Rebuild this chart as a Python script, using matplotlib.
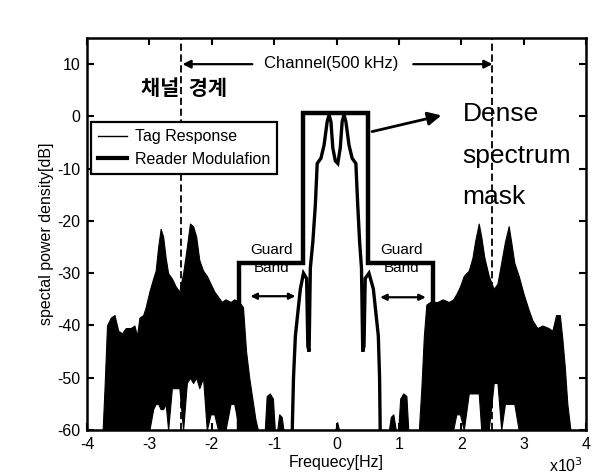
import matplotlib
matplotlib.use("Agg")
import matplotlib.pyplot as plt
from matplotlib.lines import Line2D

plt.rcParams["font.family"] = ["Liberation Sans", "DejaVu Sans"]
plt.rcParams["axes.unicode_minus"] = False

# =====================================================
# DATA  (frequency in units of 10^3 Hz, level in dB)
# =====================================================
# tag response, lower band: top / bottom envelope of the dense trace
tag_left_f = [-3.75, -3.72, -3.68, -3.62, -3.56, -3.50, -3.44, -3.38, -3.30,
              -3.24, -3.20, -3.16, -3.10, -3.06, -3.00, -2.94, -2.90, -2.86,
              -2.82, -2.78, -2.74, -2.70, -2.64, -2.58, -2.52, -2.46, -2.40,
              -2.35, -2.30, -2.25, -2.20, -2.14, -2.08, -2.02, -1.96, -1.90,
              -1.84, -1.78, -1.70, -1.64, -1.56, -1.50, -1.45, -1.40, -1.35,
              -1.30, -1.26]
tag_left_top = [-60, -52, -40, -38.5, -38, -41, -41.5, -40.5, -40.5,
                -40, -42, -38.5, -38, -36.5, -33.5, -31, -29.5, -25,
                -21.5, -23, -27, -30, -31, -32.5, -33.5, -30, -25,
                -20.5, -21, -23, -27.5, -29.5, -30.5, -32, -33.5, -34.5,
                -35.5, -35, -35.5, -35, -35.5, -36.5, -45, -50, -54,
                -58, -60]
tag_left_bot = [-60, -60, -60, -60, -60, -60, -60, -60, -60,
                -60, -60, -60, -60, -60, -60, -56, -55, -55,
                -56, -56, -55, -60, -52, -52, -52, -60, -51,
                -50, -51, -50, -52, -50, -60, -57, -57, -60,
                -60, -60, -55, -55, -60, -60, -60, -60, -60,
                -60, -60]

# tag response, upper band
tag_right_f = [1.32, 1.36, 1.40, 1.44, 1.50, 1.56, 1.62, 1.70, 1.80, 1.87,
               1.92, 1.98, 2.04, 2.12, 2.18, 2.22, 2.28, 2.32, 2.37, 2.44,
               2.52, 2.58, 2.64, 2.70, 2.76, 2.80, 2.85, 2.92, 3.00, 3.08,
               3.14, 3.22, 3.30, 3.40, 3.46, 3.52, 3.58, 3.62, 3.66, 3.70,
               3.75]
tag_right_top = [-60, -52, -42, -36, -35.5, -35.5, -35.5, -35, -35.5, -35,
                 -34, -32.5, -30.5, -29.5, -27, -24, -20.5, -23, -27, -30.5,
                 -33, -32, -28, -24, -21, -24, -28, -30.5, -34, -37,
                 -39, -40.5, -40, -40.5, -41, -38, -38, -42.5, -48, -55,
                 -60]
tag_right_bot = [-60, -60, -60, -60, -60, -60, -60, -60, -60, -60,
                 -57, -57, -60, -53, -53, -53, -53, -60, -60, -60,
                 -51, -51, -60, -55, -55, -55, -55, -60, -60, -60,
                 -60, -60, -60, -60, -60, -60, -60, -60, -60, -60,
                 -60]

# small tag response bits inside the guard bands
tag_mid_f = [-1.15, -1.12, -1.07, -1.02, -0.99, -0.95, -0.92, -0.88, -0.85,
             -0.02, 0.01, 0.04, 0.84, 0.87, 0.91, 0.95, 0.99, 1.02, 1.07,
             1.12, 1.15]
tag_mid_top = [-60, -53.5, -53, -54, -60, -60, -57, -57.5, -60,
               -60, -58.5, -60, -60, -57.5, -57, -60, -60, -54, -53,
               -53.5, -60]

# reader modulation spectrum
reader_f = [-0.71, -0.69, -0.66, -0.58, -0.53, -0.48, -0.46, -0.44, -0.42,
            -0.38, -0.34, -0.31, -0.25, -0.20, -0.15, -0.12, -0.09, -0.06,
            -0.02, 0.02, 0.06, 0.09, 0.12, 0.15, 0.20, 0.25, 0.31, 0.34,
            0.37, 0.40, 0.42, 0.44, 0.46, 0.52, 0.59, 0.67, 0.69, 0.70]
reader_db = [-60, -50, -42, -33, -30, -31, -44, -45, -29,
             -24, -17, -9, -8, -5.5, -1, 0.3, -1, -6,
             -8.5, -9, -6, -1, 0.3, -1, -5.5, -8, -9, -17,
             -24, -29, -45, -44, -31, -30, -33, -42, -50, -60]

# dense spectrum mask
mask_f = [-1.57, -1.57, -0.53, -0.53, 0.50, 0.50, 1.55, 1.55]
mask_db = [-60, -28, -28, 0.6, 0.6, -28, -28, -60]

channel_edges = [-2.5, 2.5]

xticks = [-4, -3, -2, -1, 0, 1, 2, 3, 4]
yticks = [10, 0, -10, -20, -30, -40, -50, -60]

# =====================================================
# FIGURE
# =====================================================
fig = plt.figure(figsize=(6.13, 4.76), dpi=100)
ax = fig.add_axes([0.142, 0.0966, 0.814, 0.8235])

# tag response (dense thin trace)
for f, top, bot in [(tag_left_f, tag_left_top, tag_left_bot),
                    (tag_right_f, tag_right_top, tag_right_bot)]:
    ax.fill_between(f, bot, top, color="black", linewidth=0.8, zorder=2)
ax.fill_between(tag_mid_f, -60, tag_mid_top, color="black", linewidth=0.8,
                zorder=2)

# reader modulation + mask
ax.plot(reader_f, reader_db, color="black", linewidth=2.4, zorder=4,
        solid_joinstyle="miter")
ax.plot(mask_f, mask_db, color="black", linewidth=3.2, zorder=4,
        solid_joinstyle="miter")

# channel boundaries
for e in channel_edges:
    ax.axvline(e, color="black", linestyle=(0, (4, 2)), linewidth=1.3,
               zorder=3)

# =====================================================
# ANNOTATIONS
# =====================================================
ax.text(-0.08, 10.1, "Channel(500 kHz)", ha="center", va="center",
        fontsize=12)
ax.annotate("", xy=(-2.47, 10), xytext=(-1.35, 10),
            arrowprops=dict(arrowstyle="-|>", color="black", lw=1.6,
                            mutation_scale=12, shrinkA=0, shrinkB=0))
ax.annotate("", xy=(2.5, 10), xytext=(1.23, 10),
            arrowprops=dict(arrowstyle="-|>", color="black", lw=1.6,
                            mutation_scale=12, shrinkA=0, shrinkB=0))

ax.text(-2.45, 5.4, "채널  경계", ha="center", va="center", fontsize=15,
        fontweight="bold", family=["Noto Sans CJK KR", "DejaVu Sans"])

ax.annotate("", xy=(1.68, 0.2), xytext=(0.57, -2.9),
            arrowprops=dict(arrowstyle="-|>", color="black", lw=2.0,
                            mutation_scale=20, shrinkA=0, shrinkB=0))
for label, yy in [("Dense", 0.4), ("spectrum", -7.6), ("mask", -15.4)]:
    ax.text(2.02, yy, label, ha="left", va="center", fontsize=19)

for cx in [-1.04, 1.04]:
    ax.text(cx, -25.6, "Guard", ha="center", va="center", fontsize=11,
            zorder=1)
    ax.text(cx, -29.0, "Band", ha="center", va="center", fontsize=11,
            zorder=1)
ax.annotate("", xy=(-1.38, -34.4), xytext=(-0.66, -34.4),
            arrowprops=dict(arrowstyle="<|-|>", color="black", lw=1.6,
                            mutation_scale=9, shrinkA=0, shrinkB=0))
ax.annotate("", xy=(0.70, -34.6), xytext=(1.43, -34.6),
            arrowprops=dict(arrowstyle="<|-|>", color="black", lw=1.6,
                            mutation_scale=9, shrinkA=0, shrinkB=0))

# =====================================================
# AXES
# =====================================================
ax.set_xlim(-4, 4)
ax.set_ylim(-60, 15)
ax.set_xticks(xticks)
ax.set_yticks(yticks)
ax.tick_params(direction="in", length=5, width=1.5, top=True, right=True,
               labelsize=11.5, pad=5)
for s in ax.spines.values():
    s.set_linewidth(1.8)

ax.set_xlabel("Frequecy[Hz]", fontsize=11.5, labelpad=2)
ax.set_ylabel("spectal power density[dB]", fontsize=11.5, labelpad=2)
ax.text(0.995, -0.068, "x10$^3$", transform=ax.transAxes, ha="right",
        va="top", fontsize=11.5)

handles = [Line2D([], [], color="black", linewidth=1.0),
           Line2D([], [], color="black", linewidth=3.0)]
leg = ax.legend(handles, ["Tag Response", "Reader Modulafion"],
                loc="upper left", bbox_to_anchor=(0.008, 0.785),
                borderaxespad=0, fancybox=False, fontsize=11.5,
                handlelength=1.8, handletextpad=0.5, borderpad=0.45,
                labelspacing=0.45, framealpha=1)
leg.get_frame().set_edgecolor("black")
leg.get_frame().set_linewidth(1.6)
leg.set_zorder(5)

fig.savefig("out.png", dpi=100)
